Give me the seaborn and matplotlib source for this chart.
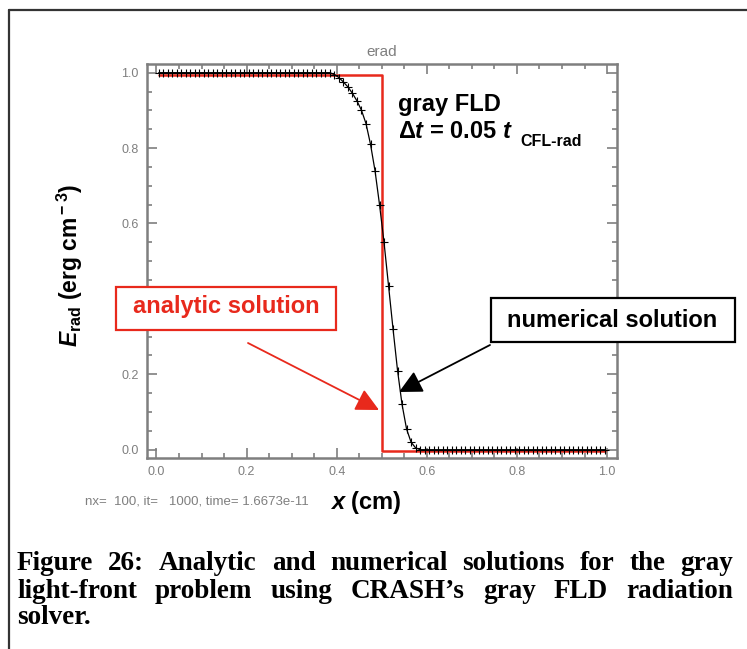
import numpy as np
import pandas as pd
import matplotlib
matplotlib.use("Agg")
import matplotlib.pyplot as plt
import seaborn as sns
from matplotlib.ticker import MultipleLocator
from matplotlib.patches import FancyArrowPatch, Rectangle

# ---------------- data ----------------
# numerical solution: nx = 100 cell centres
x_cells = [round(0.005 + 0.01 * i, 3) for i in range(100)]
e_numerical = ([1.0] * 39 +
               [0.995, 0.987, 0.975, 0.962, 0.945, 0.925, 0.90, 0.865, 0.81, 0.74,
                0.65, 0.55, 0.435, 0.32, 0.21, 0.12, 0.055, 0.02, 0.005] +
               [0.0] * 42)
# analytic step solution
x_analytic = [0.005, 0.5, 0.5, 0.995]
e_analytic = [0.995, 0.995, -0.004, -0.004]

x_ticks = [0.0, 0.2, 0.4, 0.6, 0.8, 1.0]
y_ticks = [0.0, 0.2, 0.4, 0.6, 0.8, 1.0]
y_ticklabels = ["0.0", "0.2", "", "0.6", "0.8", "1.0"]
x_ticklabels = ["0.0", "0.2", "0.4", "0.6", "0.8", "1.0"]

caption_lines = [
    "Figure 26: Analytic and numerical solutions for the gray",
    "light-front problem using CRASH\u2019s gray FLD radiation",
    "solver.",
]

df_num = pd.DataFrame({"x": x_cells, "E": e_numerical})
df_ana = pd.DataFrame({"x": x_analytic, "E": e_analytic})

# ---------------- style ----------------
sns.set_style("white")
plt.rcParams["font.family"] = ["Liberation Sans", "DejaVu Sans"]
plt.rcParams["text.color"] = "black"
plt.rcParams["mathtext.fontset"] = "custom"
plt.rcParams["mathtext.rm"] = "Liberation Sans:bold"
plt.rcParams["mathtext.it"] = "Liberation Sans:italic:bold"
plt.rcParams["mathtext.bf"] = "Liberation Sans:bold"

W, H = 747, 649
fig = plt.figure(figsize=(W / 100, H / 100), dpi=100)
fig.patch.set_facecolor("white")


def fx(px):
    return px / W


def fy(py):
    return 1 - py / H


ax = fig.add_axes([fx(147), fy(458), 470 / W, 394 / H])

RED = "#e8291c"
GRAY = "#7f7f7f"

sns.lineplot(data=df_num, x="x", y="E", ax=ax, color="black", linewidth=0.9,
             marker="+", markersize=6, markeredgewidth=0.8, markeredgecolor="black",
             estimator=None, sort=False)
sns.lineplot(data=df_ana, x="x", y="E", ax=ax, color=RED, linewidth=1.8,
             estimator=None, sort=False, zorder=1)

ax.set_xlim(-0.021, 1.022)
ax.set_ylim(-0.022, 1.023)
ax.set_xticks(x_ticks)
ax.set_xticklabels(x_ticklabels)
ax.set_yticks(y_ticks)
ax.set_yticklabels(y_ticklabels)
ax.xaxis.set_minor_locator(MultipleLocator(0.05))
ax.yaxis.set_minor_locator(MultipleLocator(0.05))
ax.tick_params(which="both", direction="in", top=True, right=True, bottom=True, left=True,
               color=GRAY, width=1.2)
ax.tick_params(which="major", length=7, labelsize=9, labelcolor=GRAY, pad=6)
ax.tick_params(which="minor", length=3.5)
for sp in ax.spines.values():
    sp.set_color(GRAY)
    sp.set_linewidth(1.8)
ax.set_xlabel("")
ax.set_ylabel("")
ax.set_title("erad", fontsize=11, color=GRAY, pad=6)

# annotations inside the plot
fig.text(fx(398), fy(105), "gray FLD", fontsize=17, fontweight="bold", va="center", ha="left")
fig.text(fx(398), fy(132), r"$\it{\Delta t}$ = 0.05 $\it{t}$", fontsize=17,
         fontweight="bold", va="center", ha="left")
fig.text(fx(520), fy(141), "CFL-rad", fontsize=11.5, fontweight="bold", va="center", ha="left")

# analytic label box
fig.add_artist(Rectangle((fx(116), fy(330)), (336 - 116) / W, (330 - 287) / H,
                         transform=fig.transFigure, facecolor="white", edgecolor=RED,
                         linewidth=1.6, zorder=5))
fig.text(fx(226), fy(307), "analytic solution", fontsize=17, fontweight="bold", color=RED,
         ha="center", va="center", zorder=6)
arr1 = FancyArrowPatch((fx(248), fy(343)), (fx(379), fy(410)), transform=fig.transFigure,
                       arrowstyle="-|>,head_length=14,head_width=7", color=RED, linewidth=1.3,
                       shrinkA=0, shrinkB=0)
fig.patches.append(arr1)

fig.add_artist(Rectangle((fx(491), fy(342)), (735 - 491) / W, (342 - 298) / H,
                         transform=fig.transFigure, facecolor="white", edgecolor="black",
                         linewidth=1.6, zorder=5))
fig.text(fx(612), fy(320), "numerical solution", fontsize=17, fontweight="bold", color="black",
         ha="center", va="center", zorder=6)
arr2 = FancyArrowPatch((fx(490), fy(345)), (fx(399), fy(392)), transform=fig.transFigure,
                       arrowstyle="-|>,head_length=14,head_width=7", color="black", linewidth=1.3,
                       shrinkA=0, shrinkB=0)
fig.patches.append(arr2)

# axis labels
fig.text(fx(70), fy(265), r"$\it{E}_{\rm rad}$ (erg cm$^{\rm -3}$)", rotation=90,
         fontsize=16.5, fontweight="bold", ha="center", va="center")
fig.text(fx(366), fy(502), r"$\it{x}$ (cm)", fontsize=17, fontweight="bold",
         ha="center", va="center")
fig.text(fx(85), fy(501), "nx=  100, it=   1000, time= 1.6673e-11", fontsize=9.5,
         color=GRAY, ha="left", va="center")

# frame lines
fig.add_artist(plt.Line2D([fx(8.5), fx(8.5)], [0, fy(10)], transform=fig.transFigure,
                          color="#333333", linewidth=1.6))
fig.add_artist(plt.Line2D([fx(8.5), 1.0], [fy(10), fy(10)], transform=fig.transFigure,
                          color="#333333", linewidth=1.6))

# caption (justified)
cap_font = dict(family=["Liberation Serif", "DejaVu Serif"], fontsize=19.5, fontweight="bold",
                color="black")
x_left, x_right = 17, 733
line_y = [564, 591, 617]
fig.canvas.draw()
renderer = fig.canvas.get_renderer()
for li, (line, yy) in enumerate(zip(caption_lines, line_y)):
    words = line.split(" ")
    if li == len(caption_lines) - 1:
        fig.text(fx(x_left), fy(yy), line, ha="left", va="center", **cap_font)
        continue
    widths = []
    for w in words:
        t = fig.text(0, 0, w, **cap_font)
        bb = t.get_window_extent(renderer)
        widths.append(bb.width)
        t.remove()
    gap = (x_right - x_left - sum(widths)) / (len(words) - 1)
    xpos = x_left
    for w, wd in zip(words, widths):
        fig.text(fx(xpos), fy(yy), w, ha="left", va="center", **cap_font)
        xpos += wd + gap

fig.savefig("out.png", dpi=100, facecolor="white")
